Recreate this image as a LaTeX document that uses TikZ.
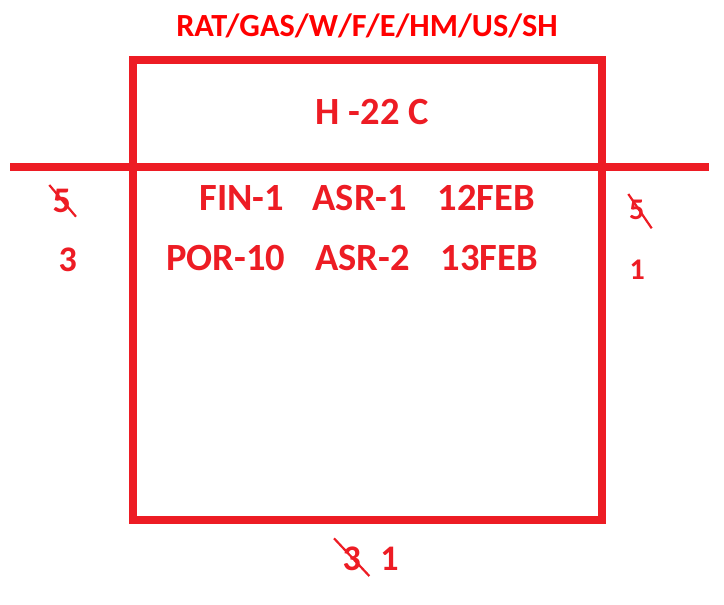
\documentclass[tikz,border=0pt]{standalone}
\usepackage{fontspec}
\setmainfont{Carlito}
\usetikzlibrary{calc}

\definecolor{paintred}{HTML}{ED1C24}
\definecolor{titlered}{HTML}{FF0000}

\tikzset{
  frame/.style={draw=paintred, line width=8pt},
  strike/.style={draw=paintred, line width=2.2pt},
  label/.style={text=paintred, font=\bfseries\fontsize{36}{40}\selectfont, inner sep=0pt, anchor=base},
  cell/.style={label, anchor=base west, font=\bfseries\fontsize{38.5}{42}\selectfont},
  small/.style={label, font=\bfseries\fontsize{30}{34}\selectfont}
}

\begin{document}
\begin{tikzpicture}[x=1pt,y=-1pt]

% --- Geometry settings (pixels, y grows downward) ---
\def\L{133}      % left side of the box
\def\R{602}      % right side of the box
\def\T{60}       % top of the box
\def\B{520}      % bottom of the box
\def\midY{166.5} % long horizontal line

\useasboundingbox (0,0) rectangle (724,605);

% --- Box and the long crossing line ---
\draw[frame] (\L,\T) rectangle (\R,\B);
\draw[frame] (10,\midY) -- (709,\midY);

% --- Heading above and inside the box ---
\node[label, text=titlered, font=\bfseries\fontsize{32.3}{36}\selectfont] (title) at (367,36.7) {RAT/GAS/W/F/E/HM/US/SH};
\node[label, font=\bfseries\fontsize{38.5}{42}\selectfont] (temp) at (372.3,124.3) {H -22 C};

% --- Entries below the line ---
\node[cell] (fin)  at (199.3,210) {FIN-1};
\node[cell] (asra) at (312.3,210) {ASR-1};
\node[cell] (dayA) at (437.3,210) {12FEB};

\node[cell] (por)  at (166,270)   {POR-10};
\node[cell] (asrb) at (315,270)   {ASR-2};
\node[cell] (dayB) at (440.7,270) {13FEB};

% --- Counts round the box ---
\node[label] (l5) at (61.7,212.7) {5};
\node[label] (l3) at (67.7,271.7) {3};
\node[small] (r5) at (636.7,219.3) {5};
\node[small] (r1) at (637.3,279)   {1};
\node[label] (b3) at (351.7,570.7) {3};
\node[label] (b1) at (389.5,570.7) {1};

% struck-out counts
\draw[strike] ([shift={(-12.4,-27.7)}]l5.base) -- ([shift={(14.3,4)}]l5.base);
\draw[strike] ([shift={(-8.4,-25.3)}]r5.base) -- ([shift={(15,9)}]r5.base);
\draw[strike] ([shift={(-17.7,-32.4)}]b3.base) -- ([shift={(17.6,5.3)}]b3.base);

\end{tikzpicture}
\end{document}
